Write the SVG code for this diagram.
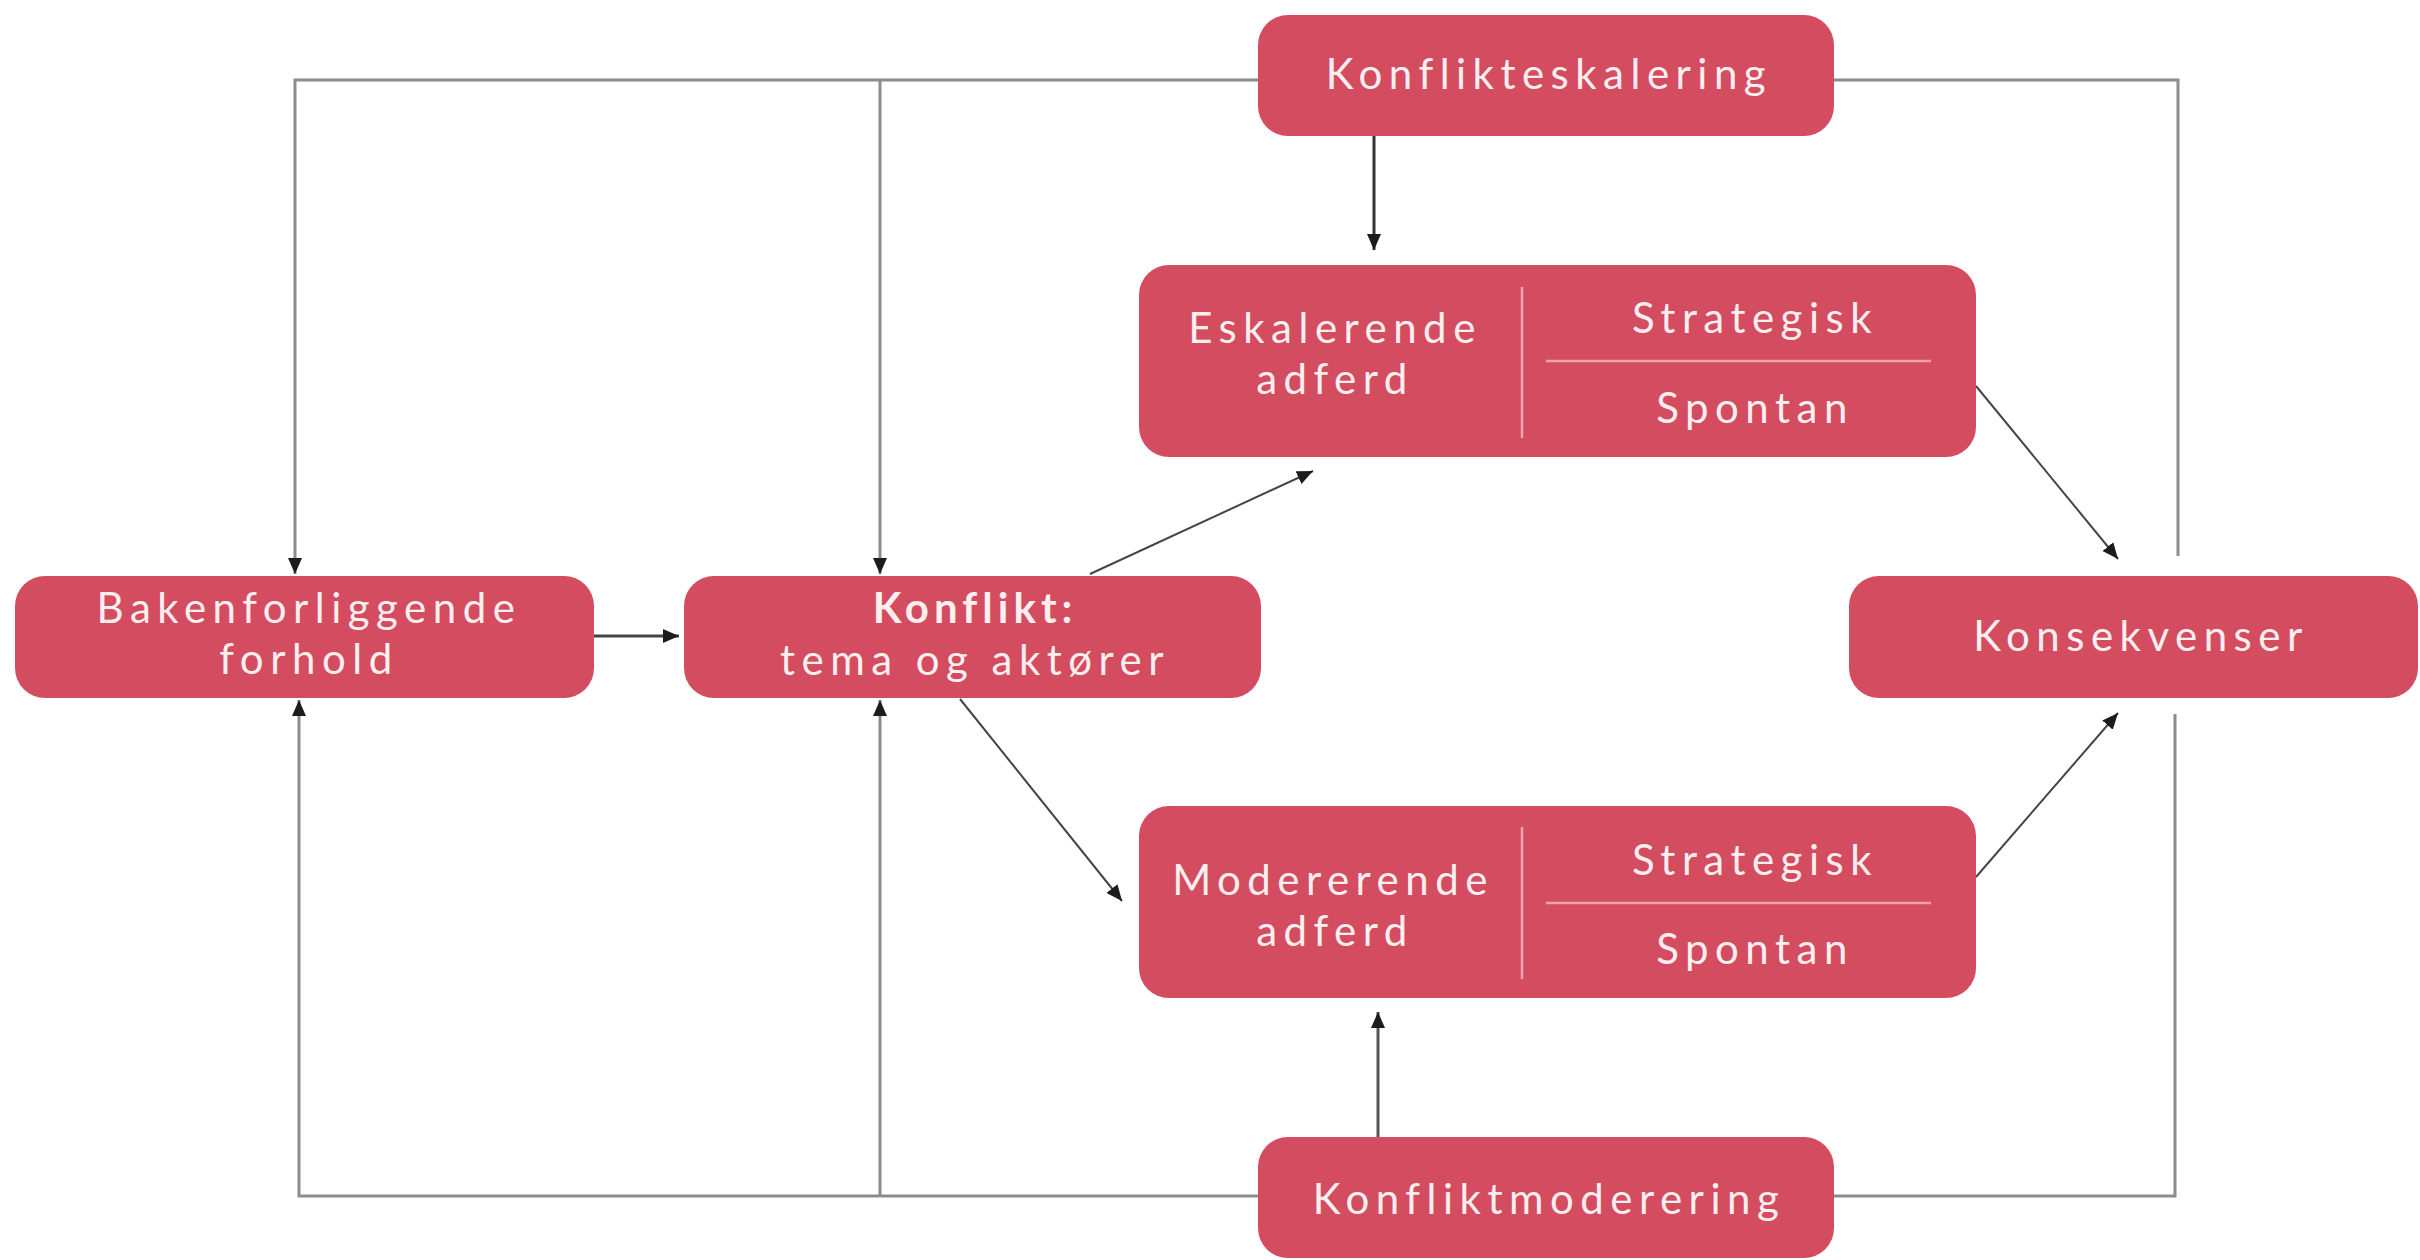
<svg xmlns="http://www.w3.org/2000/svg" width="2420" height="1260" viewBox="0 0 2420 1260">
<style>
.box{fill:#d44c5f;}
.t{font-family:Lato,"Open Sans","Liberation Sans",sans-serif;font-size:42px;fill:#fdeef0;text-anchor:middle;letter-spacing:6.5px;}
.b{font-weight:bold;letter-spacing:5px;}
.sep{stroke:#f3a3ae;stroke-width:2.5;}
.g{fill:none;stroke:#8c8c8c;stroke-width:3;}
.d{fill:none;stroke:#454545;stroke-width:2;}
</style>
<defs>
<marker id="ah" markerUnits="userSpaceOnUse" markerWidth="16" markerHeight="14" refX="16" refY="7" orient="auto">
<path d="M0,0 L16,7 L0,14 z" fill="#1c1c1c"/>
</marker>
</defs>
<rect width="2420" height="1260" fill="#ffffff"/>
<g id="connectors">
<path class="g" d="M1258,80 H295 V574" marker-end="url(#ah)"/>
<path class="g" d="M880,80 V574" marker-end="url(#ah)"/>
<path class="g" d="M1834,80 H2178 V556"/>
<path class="g" d="M1374,136 V250" marker-end="url(#ah)" style="stroke:#333"/>
<path class="g" d="M594,636 H679" marker-end="url(#ah)" style="stroke:#444"/>
<path class="d" d="M1090,574 L1313,471" marker-end="url(#ah)"/>
<path class="d" d="M960,699 L1122,901" marker-end="url(#ah)"/>
<path class="d" d="M1976,386 L2118,559" marker-end="url(#ah)"/>
<path class="d" d="M1976,877 L2118,713" marker-end="url(#ah)"/>
<path class="g" d="M1258,1196 H299 V700" marker-end="url(#ah)"/>
<path class="g" d="M880,1196 V700" marker-end="url(#ah)"/>
<path class="g" d="M1834,1196 H2175 V714"/>
<path class="g" d="M1378,1137 V1012" marker-end="url(#ah)" style="stroke:#555"/>
</g>
<g id="konflikteskalering">
<rect class="box" x="1258" y="15" width="576" height="121" rx="30"/>
<text class="t" x="1549" y="89">Konflikteskalering</text>
</g>
<g id="eskalerende">
<rect class="box" x="1139" y="265" width="837" height="192" rx="30"/>
<line class="sep" x1="1522" y1="287" x2="1522" y2="438"/>
<line class="sep" x1="1546" y1="361" x2="1931" y2="361"/>
<text class="t" x="1335" y="343">Eskalerende</text>
<text class="t" x="1335" y="394">adferd</text>
<text class="t" x="1755" y="333">Strategisk</text>
<text class="t" x="1755" y="423">Spontan</text>
</g>
<g id="bakenforliggende">
<rect class="box" x="15" y="576" width="579" height="122" rx="30"/>
<text class="t" x="309" y="623">Bakenforliggende</text>
<text class="t" x="309" y="674">forhold</text>
</g>
<g id="konflikt">
<rect class="box" x="684" y="576" width="577" height="122" rx="30"/>
<text class="t b" x="975" y="623">Konflikt:</text>
<text class="t" x="975" y="675">tema og aktører</text>
</g>
<g id="konsekvenser">
<rect class="box" x="1849" y="576" width="569" height="122" rx="30"/>
<text class="t" x="2141" y="651">Konsekvenser</text>
</g>
<g id="modererende">
<rect class="box" x="1139" y="806" width="837" height="192" rx="30"/>
<line class="sep" x1="1522" y1="827" x2="1522" y2="979"/>
<line class="sep" x1="1546" y1="903" x2="1931" y2="903"/>
<text class="t" x="1333" y="895">Modererende</text>
<text class="t" x="1335" y="946">adferd</text>
<text class="t" x="1755" y="875">Strategisk</text>
<text class="t" x="1755" y="964">Spontan</text>
</g>
<g id="konfliktmoderering">
<rect class="box" x="1258" y="1137" width="576" height="121" rx="30"/>
<text class="t" x="1549" y="1214">Konfliktmoderering</text>
</g>
</svg>
